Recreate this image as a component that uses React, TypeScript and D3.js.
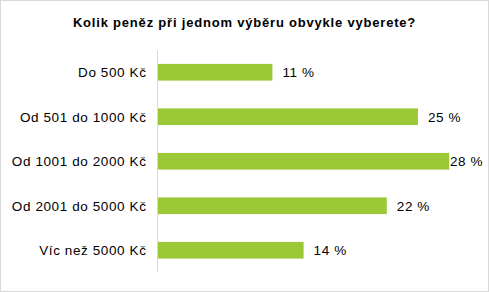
import React from "react";
import * as d3 from "d3";

const title = "Kolik peněz při jednom výběru obvykle vyberete?";
const categories = [
  "Do 500 Kč",
  "Od 501 do 1000 Kč",
  "Od 1001 do 2000 Kč",
  "Od 2001 do 5000 Kč",
  "Víc než 5000 Kč",
];
const values = [11, 25, 28, 22, 14];

const W = 489;
const H = 292;
const font = "'Liberation Sans', Arial, sans-serif";

export default function App() {
  const x = d3.scaleLinear().domain([0, 30]).range([158, 470]);
  const y = d3.scaleBand<string>().domain(categories).range([50, 272.5]).paddingInner(0.625).paddingOuter(0.3125);
  const labelLimit = 482;
  const approxW = (s: string) => s.length * 8;
  return (
    <svg width={W} height={H} style={{ position: "absolute", left: 0, top: 0 }} fontFamily={font}>
      <rect x={0} y={0} width={W} height={H} fill="#fff" />
      <rect x={0.5} y={0.5} width={W - 1} height={H - 1} fill="none" stroke="#d9d9d9" />
      <text x={W / 2} y={26.5} textAnchor="middle" fontWeight="bold" fontSize={13} letterSpacing={0.8} fill="#000">
        {title}
      </text>
      {categories.map((c, i) => {
        const yy = y(c)!;
        const bw = y.bandwidth();
        const xe = x(values[i]);
        const lbl = `${values[i]} %`;
        const lx = Math.min(xe + 10, labelLimit - approxW(lbl));
        return (
          <g key={c}>
            <rect x={x(0)} y={yy} width={xe - x(0)} height={bw} fill="#9ac837" />
            <text x={146.5} y={yy + bw / 2} dy="0.37em" textAnchor="end" fontSize={13.5} letterSpacing={0.6} fill="#000">
              {c}
            </text>
            <text x={lx} y={yy + bw / 2} dy="0.38em" textAnchor="start" fontSize={13.5} letterSpacing={0.6} fill="#000">
              {lbl}
            </text>
          </g>
        );
      })}
      <line x1={157.5} x2={157.5} y1={50} y2={272.5} stroke="#d9d9d9" />
    </svg>
  );
}
